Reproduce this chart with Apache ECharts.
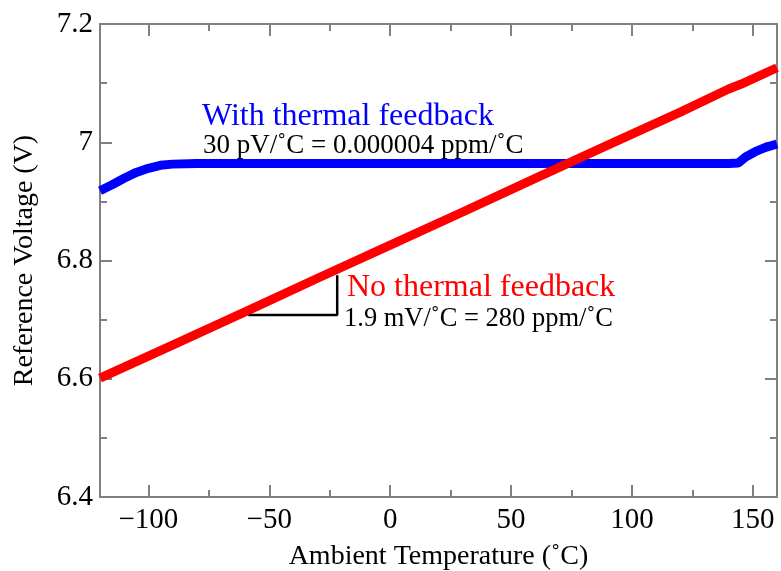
<!DOCTYPE html>
<html>
<head>
<meta charset="utf-8">
<script src="https://cdn.jsdelivr.net/npm/echarts@6/dist/echarts.min.js"></script>
<style>html,body{margin:0;padding:0;background:#fff;}#c{width:781px;height:571px;}</style>
</head>
<body>
<div id="c"></div>
<script>
// ---- data ----
const xMajorTicks = [-100, -50, 0, 50, 100, 150];
const xMinorTicks = [-75, -25, 25, 75, 125];
const yTickLabels = [6.4, 6.6, 6.8, 7, 7.2];

const redX = [-120, -90, -60, -30, 0, 30, 60, 90, 120, 140, 145, 160];
const redY = [6.601, 6.657, 6.713, 6.770, 6.826, 6.882, 6.939, 6.995, 7.051, 7.090, 7.098, 7.126];

const blueX = [-120, -115, -110, -105, -100, -95, -90, -80, 140, 144, 147, 151, 155, 160];
const blueY = [6.918, 6.928, 6.939, 6.949, 6.956, 6.961, 6.963, 6.964, 6.964, 6.965, 6.975, 6.984, 6.991, 6.997];

const slopeX = [-58.7, -21.9, -21.9];
const slopeY = [6.708, 6.708, 6.775];

const labels = {
  blueTitle: 'With thermal feedback',
  blueSub: '30 pV/\u02DAC = 0.000004 ppm/\u02DAC',
  redTitle: 'No thermal feedback',
  redSub: '1.9 mV/\u02DAC = 280 ppm/\u02DAC',
  xName: 'Ambient Temperature (\u02DAC)',
  yName: 'Reference Voltage (V)'
};

// ---- chart ----
const FONT = "'Liberation Serif', 'Times New Roman', serif";
const AX = '#808080';
const zip = (a, b) => a.map((v, i) => [v, b[i]]);

function xAx(pos, ticks, len, withLabels) {
  return {
    type: 'value', position: pos, min: -120, max: 160,
    axisLine: { show: true, onZero: false, lineStyle: { color: AX, width: 2 } },
    axisTick: { show: true, inside: true, length: len, customValues: ticks, lineStyle: { color: AX, width: 2 } },
    axisLabel: withLabels ? {
      show: true, customValues: ticks, margin: 9, color: '#000', fontFamily: FONT, fontSize: 29,
      formatter: v => v < 0 ? '\u2212' + (-v) : String(v)
    } : { show: false },
    splitLine: { show: false },
    name: withLabels ? labels.xName : '',
    nameLocation: 'middle', nameGap: 46,
    nameTextStyle: { color: '#000', fontFamily: FONT, fontSize: 28 }
  };
}
function yAx(pos, withLabels) {
  return {
    type: 'value', position: pos, min: 6.4, max: 7.2, interval: 0.2,
    axisLine: { show: true, onZero: false, lineStyle: { color: AX, width: 2 } },
    axisTick: { show: true, inside: true, length: 12, lineStyle: { color: AX, width: 2 } },
    minorTick: { show: true, splitNumber: 2, length: 7, lineStyle: { color: AX, width: 2 } },
    axisLabel: withLabels ? {
      show: true, margin: 7, color: '#000', fontFamily: FONT, fontSize: 29,
      formatter: v => String(Math.round(v * 10) / 10)
    } : { show: false },
    splitLine: { show: false }, minorSplitLine: { show: false },
    name: withLabels ? labels.yName : '',
    nameLocation: 'middle', nameGap: 61, nameRotate: 90,
    nameTextStyle: { color: '#000', fontFamily: FONT, fontSize: 28 }
  };
}

const chart = echarts.init(document.getElementById('c'), null, { renderer: 'canvas' });
chart.setOption({
  animation: false,
  backgroundColor: '#fff',
  grid: { left: 100, right: 4, top: 24, bottom: 74, containLabel: false, outerBoundsMode: 'none' },
  xAxis: [
    xAx('bottom', xMajorTicks, 12, true),
    xAx('bottom', xMinorTicks, 7, false),
    xAx('top', xMajorTicks, 12, false),
    xAx('top', xMinorTicks, 7, false)
  ],
  yAxis: [yAx('left', true), yAx('right', false)],
  series: [
    { type: 'line', xAxisIndex: 0, yAxisIndex: 0, data: zip(slopeX, slopeY), showSymbol: false, symbol: 'none',
      lineStyle: { color: '#000', width: 2.5 }, z: 2 },
    { type: 'line', xAxisIndex: 0, yAxisIndex: 0, data: zip(blueX, blueY), showSymbol: false, symbol: 'none',
      lineStyle: { color: '#0000ff', width: 9 }, clip: true, z: 3 },
    { type: 'line', xAxisIndex: 0, yAxisIndex: 0, data: zip(redX, redY), showSymbol: false, symbol: 'none',
      lineStyle: { color: '#ff0000', width: 9 }, clip: true, z: 4 }
  ],
  graphic: [
    { type: 'text', left: 202, top: 101, style: { text: labels.blueTitle, fill: '#0000ff', font: '32px ' + FONT } },
    { type: 'text', left: 203, top: 132, style: { text: labels.blueSub, fill: '#000', font: '27px ' + FONT } },
    { type: 'text', left: 347, top: 272, style: { text: labels.redTitle, fill: '#ff0000', font: '32px ' + FONT } },
    { type: 'text', left: 344, top: 306, style: { text: labels.redSub, fill: '#000', font: '26.5px ' + FONT } }
  ]
});
</script>
</body>
</html>
